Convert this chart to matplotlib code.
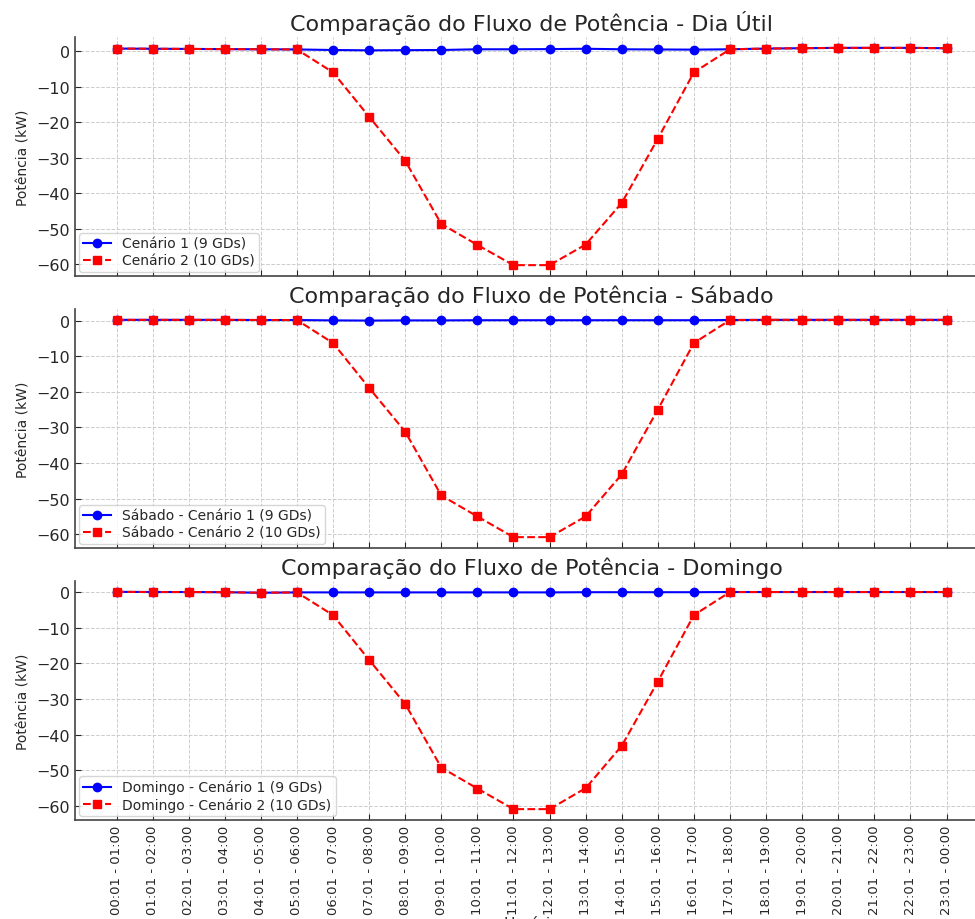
import matplotlib
matplotlib.use("Agg")
from matplotlib import pyplot as plt
import numpy as np

# horarios (intervalos de 1 h)
horas = ["00:01 - 01:00", "01:01 - 02:00", "02:01 - 03:00", "03:01 - 04:00",
         "04:01 - 05:00", "05:01 - 06:00", "06:01 - 07:00", "07:01 - 08:00",
         "08:01 - 09:00", "09:01 - 10:00", "10:01 - 11:00", "11:01 - 12:00",
         "12:01 - 13:00", "13:01 - 14:00", "14:01 - 15:00", "15:01 - 16:00",
         "16:01 - 17:00", "17:01 - 18:00", "18:01 - 19:00", "19:01 - 20:00",
         "20:01 - 21:00", "21:01 - 22:00", "22:01 - 23:00", "23:01 - 00:00"]

# Dia util
util_c1 = [0.8, 0.75, 0.7, 0.65, 0.6, 0.55, 0.4, 0.3, 0.35, 0.4, 0.6, 0.6,
           0.65, 0.75, 0.6, 0.55, 0.5, 0.6, 0.8, 0.9, 1.0, 1.0, 1.0, 0.9]
util_c2 = [0.8, 0.75, 0.7, 0.65, 0.6, 0.55, -5.9, -18.4, -30.8, -48.6, -54.5, -60.2,
           -60.2, -54.4, -42.7, -24.6, -5.9, 0.6, 0.8, 0.9, 1.0, 1.0, 1.0, 0.9]

# Sabado
sab_c1 = [0.2, 0.2, 0.2, 0.2, 0.15, 0.15, 0.05, 0.0, 0.05, 0.05, 0.1, 0.1,
          0.1, 0.1, 0.1, 0.1, 0.1, 0.15, 0.2, 0.2, 0.2, 0.2, 0.2, 0.2]
sab_c2 = [0.2, 0.2, 0.2, 0.2, 0.15, 0.15, -6.3, -18.9, -31.2, -49.1, -55.0, -60.8,
          -60.8, -55.0, -43.2, -25.0, -6.3, 0.15, 0.2, 0.2, 0.2, 0.2, 0.2, 0.2]

# Domingo
dom_c1 = [0.15, 0.1, 0.1, 0.05, -0.1, 0.0, 0.0, 0.0, 0.0, 0.0, 0.0, 0.0,
          0.0, 0.05, 0.05, 0.05, 0.05, 0.1, 0.1, 0.1, 0.1, 0.1, 0.1, 0.1]
dom_c2 = [0.15, 0.1, 0.1, 0.05, -0.1, 0.0, -6.4, -19.0, -31.4, -49.3, -55.2, -61.0,
          -61.0, -55.1, -43.2, -25.1, -6.4, 0.1, 0.1, 0.1, 0.1, 0.1, 0.1, 0.1]

paineis = [
    ("Comparação do Fluxo de Potência - Dia Útil", util_c1, util_c2,
     "Cenário 1 (9 GDs)", "Cenário 2 (10 GDs)"),
    ("Comparação do Fluxo de Potência - Sábado", sab_c1, sab_c2,
     "Sábado - Cenário 1 (9 GDs)", "Sábado - Cenário 2 (10 GDs)"),
    ("Comparação do Fluxo de Potência - Domingo", dom_c1, dom_c2,
     "Domingo - Cenário 1 (9 GDs)", "Domingo - Cenário 2 (10 GDs)"),
]

plt.rcParams['font.family'] = 'DejaVu Sans'
plt.rcParams['text.color'] = '#262626'
plt.rcParams['axes.labelcolor'] = '#262626'
plt.rcParams['xtick.color'] = '#262626'
plt.rcParams['ytick.color'] = '#262626'

fig, axs = plt.subplots(3, 1, figsize=(9.75, 9.2), dpi=100, sharex=True)
fig.subplots_adjust(left=75/975, right=988/975, top=1-38/920, bottom=1-821/920, hspace=0.138)

x = np.arange(len(horas))
for ax, (titulo, c1, c2, lab1, lab2) in zip(axs, paineis):
    ax.plot(x, c1, color='blue', marker='o', markersize=6, linewidth=1.5, label=lab1)
    ax.plot(x, c2, color='red', marker='s', markersize=6, linewidth=1.5,
            linestyle='--', label=lab2)
    ax.set_title(titulo, fontsize=16, pad=5)
    ax.set_ylabel("Potência (kW)", fontsize=10)
    ax.set_yticks([0, -10, -20, -30, -40, -50, -60])
    ax.grid(True, linestyle='--', color='#cccccc', linewidth=0.7)
    ax.tick_params(direction='in', length=4, labelsize=11.5)
    ax.tick_params(axis='x', labelsize=9.5)
    for s in ['top', 'right']:
        ax.spines[s].set_visible(False)
    for s in ['left', 'bottom']:
        ax.spines[s].set_color('#444444')
        ax.spines[s].set_linewidth(1.2)
    ax.legend(loc='lower left', fontsize=10, edgecolor='#cccccc', borderaxespad=0.3,
              labelspacing=0.2, borderpad=0.3)

axs[-1].set_xticks(x)
axs[-1].set_xticklabels(horas, rotation=90)
axs[-1].set_xlabel("Horário", fontsize=11, labelpad=1)

plt.savefig("out.png", dpi=100)
